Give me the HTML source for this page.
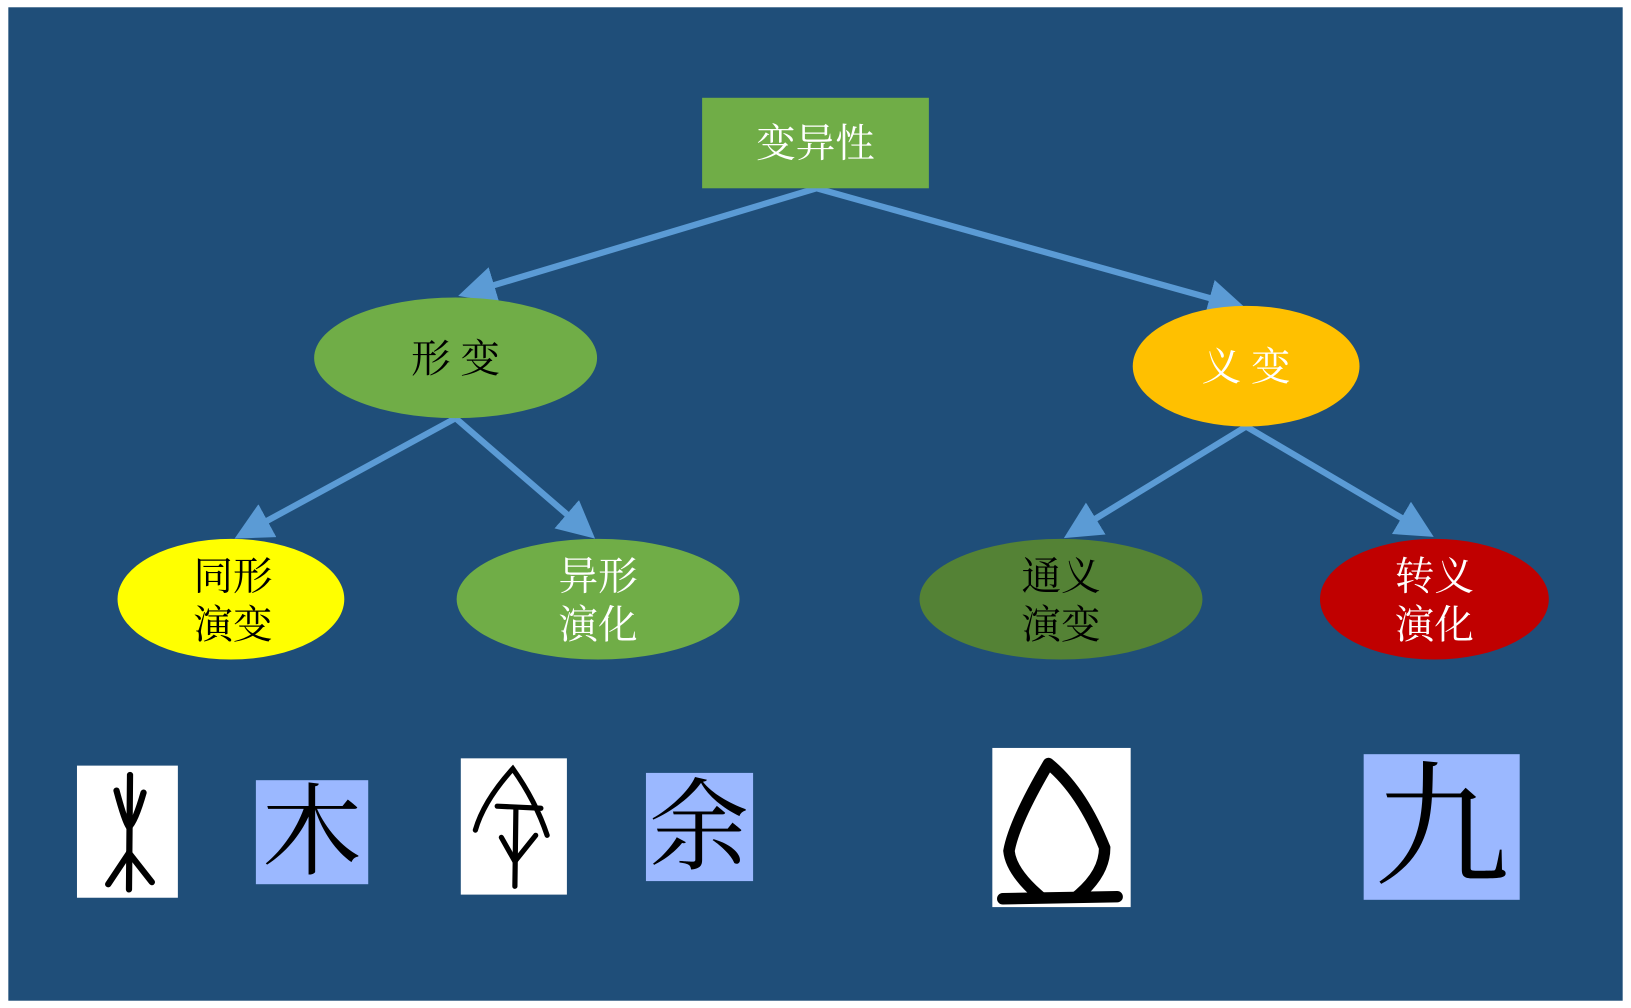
<!DOCTYPE html>
<html><head><meta charset="utf-8"><style>
html,body{margin:0;padding:0;background:#fff;}
svg{display:block;}
text{font-family:"Liberation Serif","Noto Serif CJK SC",serif;}
</style></head><body>
<svg width="1631" height="1008" viewBox="0 0 1568 969" preserveAspectRatio="none" xmlns="http://www.w3.org/2000/svg">
<defs>
<marker id="ah" markerWidth="6" markerHeight="6" refX="4" refY="3" orient="auto" markerUnits="strokeWidth">
<path d="M0,0 L6,3 L0,6 z" fill="#5B9BD5"/>
</marker>
</defs>
<rect x="0" y="0" width="1568" height="969" fill="#fff"/>
<rect x="8" y="7" width="1552" height="955" fill="#1F4E79"/>
<g stroke="#5B9BD5" stroke-width="6" fill="none" marker-end="url(#ah)">
<line x1="785" y1="181" x2="452" y2="281"/>
<line x1="785" y1="181" x2="1186" y2="293"/>
<line x1="438" y1="402" x2="236" y2="512"/>
<line x1="438" y1="402" x2="563" y2="510"/>
<line x1="1198" y1="410" x2="1033" y2="511"/>
<line x1="1198" y1="410" x2="1368" y2="510"/>
</g>
<rect x="675" y="94" width="218" height="87" fill="#70AD47"/>
<text x="784" y="151" font-size="38" fill="#fff" text-anchor="middle">变异性</text>
<ellipse cx="438" cy="344" rx="136" ry="58" fill="#70AD47"/>
<text x="438" y="358" font-size="38" fill="#000" text-anchor="middle">形  变</text>
<ellipse cx="1198" cy="352" rx="109" ry="58" fill="#FFC000"/>
<text x="1198" y="366" font-size="38" fill="#fff" text-anchor="middle">义  变</text>
<ellipse cx="222" cy="576" rx="109" ry="58" fill="#FFFF00"/>
<text x="224" y="567" font-size="38" fill="#000" text-anchor="middle">同形</text>
<text x="224" y="614" font-size="38" fill="#000" text-anchor="middle">演变</text>
<ellipse cx="575" cy="576" rx="136" ry="58" fill="#70AD47"/>
<text x="575" y="567" font-size="38" fill="#fff" text-anchor="middle">异形</text>
<text x="575" y="614" font-size="38" fill="#fff" text-anchor="middle">演化</text>
<ellipse cx="1020" cy="576" rx="136" ry="58" fill="#548235"/>
<text x="1020" y="567" font-size="38" fill="#000" text-anchor="middle">通义</text>
<text x="1020" y="614" font-size="38" fill="#000" text-anchor="middle">演变</text>
<ellipse cx="1379" cy="576" rx="110" ry="58" fill="#C00000"/>
<text x="1379" y="567" font-size="38" fill="#fff" text-anchor="middle">转义</text>
<text x="1379" y="614" font-size="38" fill="#fff" text-anchor="middle">演化</text>

<rect x="74" y="736" width="97" height="127" fill="#fff"/>
<g stroke="#000" stroke-width="6" fill="none" stroke-linecap="round">
<path d="M125,745 L124,855"/>
<path d="M112,760 Q120,790 124,795"/>
<path d="M138,762 Q130,790 124,795"/>
<path d="M124,820 L104,850"/>
<path d="M124,820 L146,848"/>
</g>
<rect x="246" y="750" width="108" height="100" fill="#9BB8FF"/>
<text x="300" y="833" font-size="96" fill="#000" text-anchor="middle">木</text>
<rect x="443" y="729" width="102" height="131" fill="#fff"/>
<g stroke="#000" stroke-width="5" fill="none" stroke-linecap="round">
<path d="M457,798 Q465,770 493,739 Q515,770 526,803"/>
<path d="M478,775 L520,777"/>
<path d="M496,776 L495,852"/>
<path d="M482,805 L495,828 L515,803"/>
</g>
<rect x="621" y="743" width="103" height="104" fill="#9BB8FF"/>
<text x="672" y="828" font-size="96" fill="#000" text-anchor="middle">余</text>
<rect x="954" y="719" width="133" height="153" fill="#fff"/>
<g stroke="#000" stroke-width="11" fill="none" stroke-linecap="round">
<path d="M1008,734 Q975,790 970,818 Q972,838 1000,862 M1008,734 Q1040,760 1062,815 Q1062,840 1035,862"/>
<path d="M964,864 L1074,862"/>
</g>
<rect x="1311" y="725" width="150" height="140" fill="#9BB8FF"/>
<text x="1386" y="840" font-size="130" fill="#000" text-anchor="middle">九</text>
</svg>
</body></html>
